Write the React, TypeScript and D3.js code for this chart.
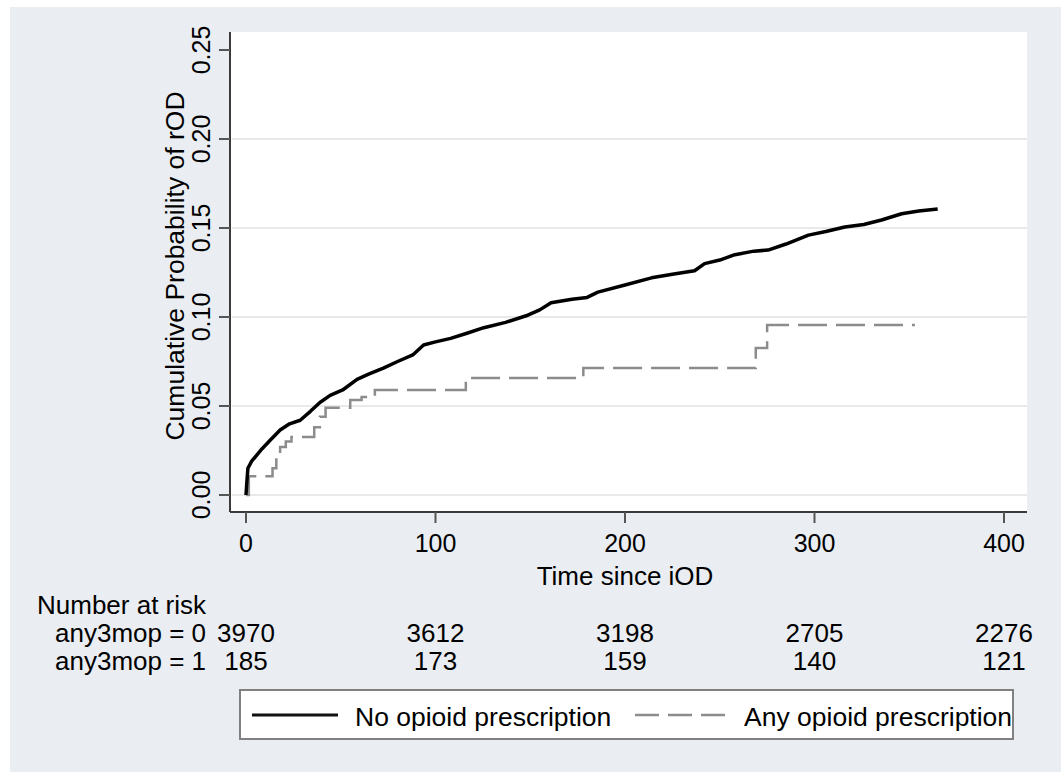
import * as d3 from "d3";

// Cumulative probability of rOD
const noOpioidTime = [0, 0.5, 1, 3, 8.5, 13, 18, 23, 28.6, 34, 39, 44.4, 51, 58.6, 65, 72.5, 80, 88, 93.7, 100, 108, 117, 125.5, 137, 148.7, 155, 161, 172, 180, 185.7, 200, 214, 225, 236.7, 242, 250, 258, 268, 275.5, 285, 296.8, 306, 316, 326, 335.4, 346, 355, 365];
const noOpioidProb = [0, 0.008, 0.015, 0.019, 0.026, 0.031, 0.0365, 0.04, 0.042, 0.047, 0.052, 0.056, 0.059, 0.065, 0.068, 0.0713, 0.075, 0.0787, 0.0843, 0.086, 0.088, 0.091, 0.094, 0.097, 0.101, 0.104, 0.108, 0.11, 0.111, 0.114, 0.118, 0.122, 0.124, 0.126, 0.13, 0.132, 0.135, 0.137, 0.1376, 0.141, 0.146, 0.148, 0.1506, 0.152, 0.1545, 0.158, 0.1595, 0.1607];

const anyOpioidTime = [0, 1.5, 14, 16, 18, 21, 24, 36, 39, 42, 55, 61, 68, 116, 178, 269, 275, 353];
const anyOpioidProb = [0, 0.0105, 0.015, 0.021, 0.027, 0.03, 0.0326, 0.038, 0.044, 0.049, 0.0534, 0.055, 0.059, 0.0657, 0.0713, 0.0826, 0.0955, 0.0955];

const xTicks = [0, 100, 200, 300, 400];
const yTicks = [0, 0.05, 0.1, 0.15, 0.2, 0.25];
const gridTicks = [0, 0.05, 0.1, 0.15, 0.2];

const riskLabels = ["any3mop = 0", "any3mop = 1"];
const riskTimes = [0, 100, 200, 300, 400];
const riskCounts0 = [3970, 3612, 3198, 2705, 2276];
const riskCounts1 = [185, 173, 159, 140, 121];

const legendLabels = ["No opioid prescription", "Any opioid prescription"];

const W = 1061;
const H = 772;
const font = "'Liberation Sans', Arial, sans-serif";
const plot = { left: 230, right: 1027, top: 32, bottom: 512 };

export default function App() {
  const x = d3.scaleLinear().domain([0, 400]).range([246, 1004]);
  const y = d3.scaleLinear().domain([0, 0.25]).range([495, 50]);

  const solidLine = d3
    .line<number>()
    .x((_, i) => x(noOpioidTime[i]))
    .y((d) => y(d))
    .curve(d3.curveLinear);

  const dashLine = d3
    .line<number>()
    .x((_, i) => x(anyOpioidTime[i]))
    .y((d) => y(d))
    .curve(d3.curveStepAfter);

  const fmt = d3.format(".2f");
  const riskRows = [riskCounts0, riskCounts1];

  return (
    <svg
      width={W}
      height={H}
      style={{ position: "absolute", left: 0, top: 0, background: "#fff" }}
      fontFamily={font}
    >
      <rect x={10} y={7} width={W - 10} height={H - 7} fill="#eaeef2" />
      <rect
        x={plot.left}
        y={plot.top}
        width={plot.right - plot.left}
        height={plot.bottom - plot.top}
        fill="#ffffff"
      />

      {/* grid */}
      {gridTicks.map((t) => (
        <line
          key={t}
          x1={plot.left + 2}
          x2={plot.right}
          y1={y(t)}
          y2={y(t)}
          stroke="#e9e9e9"
          strokeWidth={2}
        />
      ))}

      {/* curves */}
      <path
        d={dashLine(anyOpioidProb) || ""}
        fill="none"
        stroke="#8c8c8c"
        strokeWidth={2.5}
        strokeDasharray="29 9"
      />
      <path
        d={solidLine(noOpioidProb) || ""}
        fill="none"
        stroke="#000"
        strokeWidth={3.5}
        strokeLinejoin="round"
      />

      {/* axes */}
      <line x1={plot.left} x2={plot.left} y1={plot.top} y2={plot.bottom} stroke="#3a3a3a" strokeWidth={2} />
      <line x1={plot.left} x2={plot.right} y1={plot.bottom} y2={plot.bottom} stroke="#3a3a3a" strokeWidth={2} />

      {yTicks.map((t) => (
        <g key={t}>
          <line x1={219} x2={plot.left} y1={y(t)} y2={y(t)} stroke="#555" strokeWidth={2} />
          <text
            transform={`translate(210,${y(t)}) rotate(-90)`}
            textAnchor="middle"
            fontSize={25}
            fill="#000"
          >
            {fmt(t)}
          </text>
        </g>
      ))}

      {xTicks.map((t) => (
        <g key={t}>
          <line x1={x(t)} x2={x(t)} y1={plot.bottom} y2={523} stroke="#555" strokeWidth={2} />
          <text x={x(t)} y={552} textAnchor="middle" fontSize={25} fill="#000">
            {t}
          </text>
        </g>
      ))}

      <text
        transform={`translate(184,266) rotate(-90)`}
        textAnchor="middle"
        fontSize={26.5}
        fill="#000"
      >
        Cumulative Probability of rOD
      </text>
      <text x={625} y={585} textAnchor="middle" fontSize={26} fill="#000">
        Time since iOD
      </text>

      {/* number at risk table */}
      <text x={37} y={614} fontSize={26} fill="#000">
        Number at risk
      </text>
      {riskLabels.map((lab, r) => (
        <g key={lab}>
          <text x={55} y={642 + r * 28} fontSize={26} fill="#000">
            {lab}
          </text>
          {riskRows[r].map((n, i) => (
            <text
              key={i}
              x={x(riskTimes[i])}
              y={642 + r * 28}
              textAnchor="middle"
              fontSize={26}
              fill="#000"
            >
              {n}
            </text>
          ))}
        </g>
      ))}

      {/* legend */}
      <rect x={240} y={690} width={773} height={49} fill="#fff" stroke="#808080" strokeWidth={2} />
      <line x1={252} x2={338} y1={715} y2={715} stroke="#111" strokeWidth={3} />
      <text x={355} y={726} fontSize={26.5} fill="#000">
        {legendLabels[0]}
      </text>
      <line x1={635} x2={727} y1={715} y2={715} stroke="#8c8c8c" strokeWidth={2.5} strokeDasharray="24 9" />
      <text x={744} y={726} fontSize={26.5} fill="#000">
        {legendLabels[1]}
      </text>
    </svg>
  );
}
